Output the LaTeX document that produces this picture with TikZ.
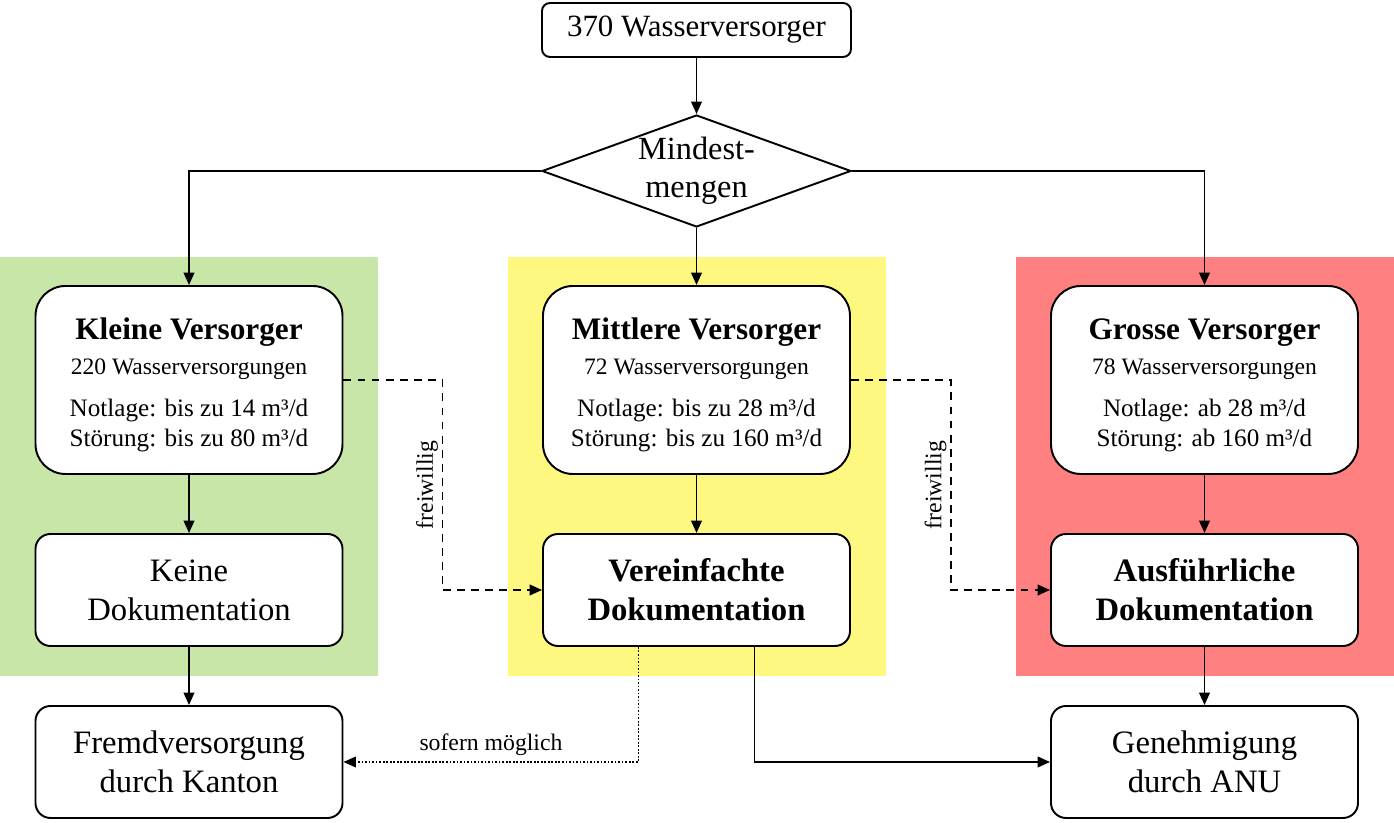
\documentclass[tikz,border=0pt]{standalone}
\usepackage{fontspec}
\setmainfont{Liberation Serif}
\usepackage{xcolor}
\usetikzlibrary{arrows.meta,shapes.geometric}
\definecolor{kleingruen}{RGB}{200,230,168}
\newcommand{\versorgertext}[4]{%
  {\fontsize{17.8}{20}\selectfont\bfseries\rule{0pt}{18pt}#1\par}%
  {\fontsize{13.4}{19.5}\selectfont #2\par}%
  {\fontsize{14.3}{24}\selectfont #3\par}%
  {\fontsize{14.3}{17}\selectfont #4\par}}

\begin{document}
\begin{tikzpicture}[
    box/.style={draw, line width=1.1pt, rounded corners=0.3cm, fill=white,
        minimum width=6.14cm, minimum height=2.24cm, align=center,
        font=\fontsize{18.6}{22.2}\selectfont},
    bigbox/.style={box, rounded corners=0.6cm, minimum height=3.76cm, text width=5.9cm, align=flush center},
    arr/.style={line width=1.1pt, -{Triangle[length=7pt,width=6pt]}},
    freilinie/.style={arr, dash pattern=on 4.5pt off 3.5pt},
    hinweis/.style={font=\fontsize{13.5}{16}\selectfont}
]
                \useasboundingbox (0,0) rectangle (27.88,16.46);
                % Hintergrund der drei Gruppen
                \fill[kleingruen] (0,2.94) rectangle (7.56,11.32);
                \fill[yellow!50] (10.16,2.94) rectangle (17.72,11.32);
                \fill[red!50] (20.32,2.94) rectangle (27.88,11.32);

                \node[box, rounded corners=0.16cm, minimum width=6.18cm, minimum height=1.08cm,
                    font=\fontsize{17.6}{21}\selectfont] (wv) at (13.93,15.86) {370 Wasserversorger};
                \node[draw, diamond, line width=1.1pt, aspect=2.76, inner sep=0pt,
                    minimum width=6.18cm, minimum height=2.24cm, align=center,
                    font=\fontsize{18.4}{21.5}\selectfont] (mm) at (13.93,13.04) {Mindest-\\mengen};

                \node[bigbox] (kv) at (3.78,8.86)
                    {\versorgertext{Kleine Versorger}{220 Wasserversorgungen}{Notlage: bis zu 14 m³/d}{Störung: bis zu 80 m³/d}};
                \node[bigbox] (mv) at (13.93,8.86)
                    {\versorgertext{Mittlere Versorger}{72 Wasserversorgungen}{Notlage: bis zu 28 m³/d}{Störung: bis zu 160 m³/d}};
                \node[bigbox] (gv) at (24.09,8.86)
                    {\versorgertext{Grosse Versorger}{78 Wasserversorgungen}{Notlage: ab 28 m³/d}{Störung: ab 160 m³/d}};

                \node[box] (kd) at (3.78,4.66) {Keine\\Dokumentation};
                \node[box, font=\fontsize{18.6}{22.2}\selectfont\bfseries] (vd) at (13.93,4.66) {Vereinfachte\\Dokumentation};
                \node[box, font=\fontsize{18.6}{22.2}\selectfont\bfseries] (ad) at (24.09,4.66) {Ausführliche\\Dokumentation};

                \node[box] (fk) at (3.78,1.22) {Fremdversorgung\\durch Kanton};
                \node[box] (ga) at (24.09,1.22) {Genehmigung\\durch ANU};

                \draw[arr] (wv) -- (mm);
                \draw[arr] (mm.west) -| (kv);
                \draw[arr] (mm) -- (mv);
                \draw[arr] (mm.east) -| (gv);
                \draw[arr] (kv) -- (kd);
                \draw[arr] (kd) -- (fk);
                \draw[arr] (mv) -- (vd);
                \draw[arr] (gv) -- (ad);
                \draw[arr] (ad) -- (ga);

                \draw[freilinie] (kv.east) -- ++(1.98,0)
                    |- node[pos=0.25, rotate=90, anchor=south, inner sep=2pt, hinweis] (fw1) {freiwillig} (vd.west);
                \draw[freilinie] (mv.east) -- ++(2.0,0)
                    |- node[pos=0.25, rotate=90, anchor=south, inner sep=2pt, hinweis] (fw2) {freiwillig} (ad.west);
                \draw[arr, line width=0.9pt, dash pattern=on 1pt off 1pt] ([xshift=-1.16cm]vd.south)
                    |- node[pos=0.75, above, hinweis] (sm) {sofern möglich} (fk.east);
                \draw[arr] ([xshift=1.16cm]vd.south) |- (ga.west);
\end{tikzpicture}
\end{document}
